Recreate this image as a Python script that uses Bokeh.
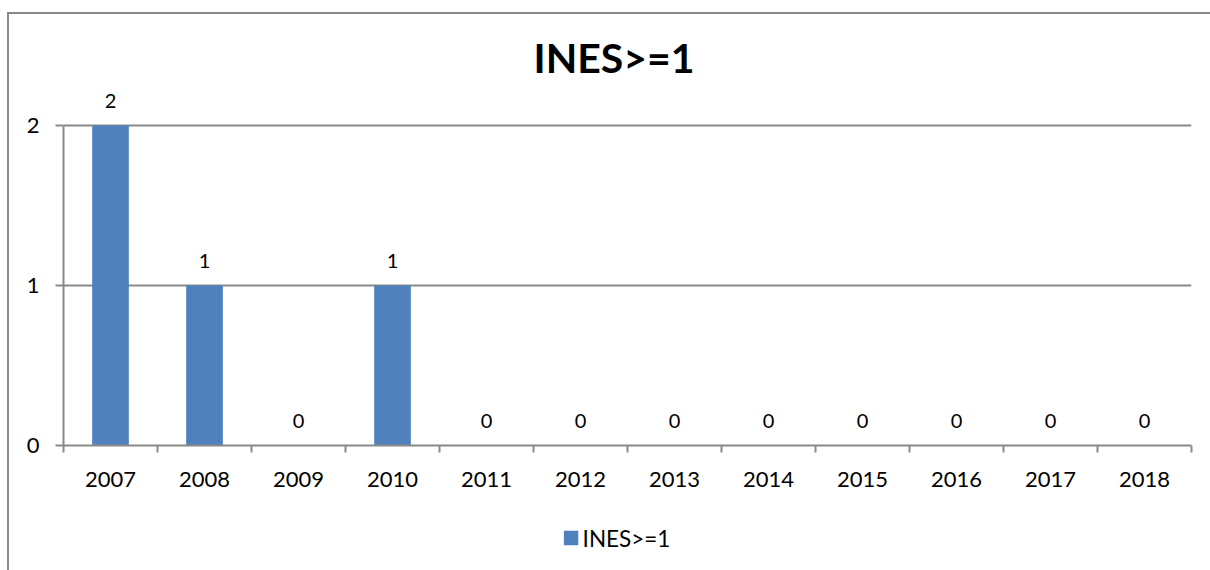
from bokeh.plotting import figure
from bokeh.layouts import column
from bokeh.models import (ColumnDataSource, FixedTicker, LabelSet, Range1d,
                          Legend, LegendItem)
from bokeh.core.properties import value
from bokeh.embed import file_html
from bokeh.resources import INLINE

years = ["2007", "2008", "2009", "2010", "2011", "2012", "2013", "2014",
         "2015", "2016", "2017", "2018"]
values = [2, 1, 0, 1, 0, 0, 0, 0, 0, 0, 0, 0]
series_name = "INES>=1"
y_ticks = [0, 1, 2]

BLUE = "#4F81BD"
GREY = "#898989"
FONT = "Lato"
W = 1201

pos = [i + 0.5 for i in range(len(years))]
src = ColumnDataSource(dict(x=pos, top=values, label=[str(v) for v in values]))

p = figure(width=W, height=491, output_backend="svg", toolbar_location=None,
           x_range=Range1d(0, len(years)), y_range=Range1d(0, 2.25),
           min_border_left=54, min_border_right=19, min_border_top=71,
           min_border_bottom=60)
p.outline_line_color = None
p.background_fill_color = "white"
p.border_fill_color = "white"

p.title.text = series_name
p.title.align = "left"
p.title.offset = 470
p.title.text_font = FONT
p.title.text_font_style = "bold"
p.title.text_font_size = "41px"
p.title.text_color = "black"
p.title.standoff = 8

r = p.vbar(x="x", top="top", width=0.39, source=src, fill_color=BLUE, line_color=None)

labels = LabelSet(x="x", y="top", text="label", source=src, text_align="center",
                  text_baseline="middle", y_offset=25, text_font=value(FONT),
                  text_font_size=value("20px"), text_color="black")
p.add_layout(labels)

# x axis
xa = p.xaxis[0]
xa.ticker = FixedTicker(ticks=pos, minor_ticks=list(range(len(years) + 1)))
xa.major_label_overrides = {p_: y for p_, y in zip(pos, years)}
xa.major_tick_line_color = None
xa.minor_tick_line_color = GREY
xa.minor_tick_line_width = 2
xa.minor_tick_out = 7
xa.minor_tick_in = 0
xa.axis_line_color = GREY
xa.axis_line_width = 2
xa.major_label_text_font = FONT
xa.major_label_text_font_size = "22px"
xa.major_label_text_color = "black"
xa.major_label_standoff = 19

# y axis
ya = p.yaxis[0]
ya.ticker = FixedTicker(ticks=y_ticks)
ya.bounds = (0, 2)
ya.minor_tick_line_color = None
ya.major_tick_line_color = GREY
ya.major_tick_line_width = 2
ya.major_tick_out = 8
ya.major_tick_in = 0
ya.axis_line_color = GREY
ya.axis_line_width = 2
ya.major_label_text_font = FONT
ya.major_label_text_font_size = "22px"
ya.major_label_text_color = "black"
ya.major_label_standoff = 16

p.xgrid.grid_line_color = None
p.ygrid.ticker = FixedTicker(ticks=y_ticks[1:])
p.ygrid.grid_line_color = GREY
p.ygrid.grid_line_width = 2

# legend strip below the chart (its renderer's bars lie outside this strip's view)
lf = figure(width=W, height=65, output_backend="svg", toolbar_location=None,
            x_range=Range1d(0, 1), y_range=Range1d(10, 11),
            x_axis_type=None, y_axis_type=None,
            min_border_left=0, min_border_right=6, min_border_top=0,
            min_border_bottom=0)
lf.styles = {"margin-left": "-11px"}
lf.outline_line_color = None
lf.grid.grid_line_color = None
lf.border_fill_color = None
lf.background_fill_color = None
lr = lf.vbar(x="x", top="top", width=0.39, source=src, fill_color=BLUE, line_color=None)
legend = Legend(items=[LegendItem(label=series_name, renderers=[lr])],
                location="center", orientation="horizontal",
                label_text_font=FONT, label_text_font_size="22.5px",
                label_text_color="black", glyph_width=18, glyph_height=18,
                label_standoff=3, border_line_color=None,
                background_fill_alpha=0, padding=0, margin=0)
lf.add_layout(legend)

layout = column(p, lf, spacing=0,
                styles={"border-left": f"2px solid {GREY}",
                        "border-top": f"2px solid {GREY}",
                        "margin-left": "7px", "margin-top": "12px"})

open("out.html", "w").write(file_html(layout, INLINE))
